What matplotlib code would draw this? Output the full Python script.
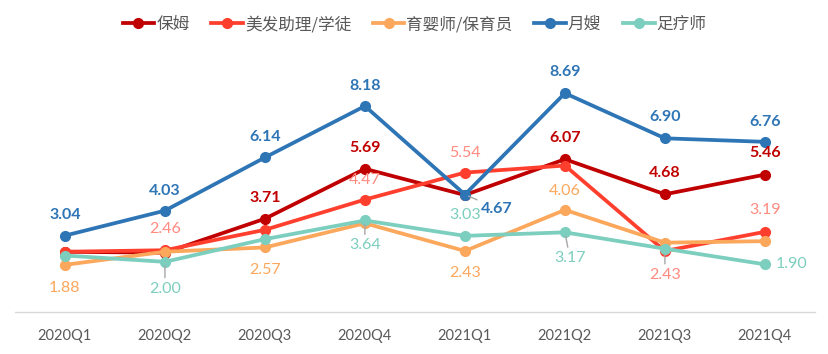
import matplotlib
matplotlib.use("Agg")
from matplotlib import pyplot as plt

plt.rcParams['font.family'] = ['Noto Sans CJK SC', 'DejaVu Sans']

quarters = ['2020Q1', '2020Q2', '2020Q3', '2020Q4', '2021Q1', '2021Q2', '2021Q3', '2021Q4']
names = ['保姆', '美发助理/学徒', '育婴师/保育员', '月嫂', '足疗师']

baomu = [2.40, 2.36, 3.71, 5.69, 4.65, 6.07, 4.68, 5.46]
meifa = [2.40, 2.46, 3.27, 4.47, 5.54, 5.82, 2.43, 3.19]
yuying = [1.88, 2.40, 2.57, 3.53, 2.43, 4.06, 2.76, 2.82]
yuesao = [3.04, 4.03, 6.14, 8.18, 4.67, 8.69, 6.90, 6.76]
zuliao = [2.25, 2.00, 2.90, 3.64, 3.03, 3.17, 2.52, 1.90]

series = [baomu, meifa, yuying, yuesao, zuliao]
line_colors = ['#C00000', '#FF3F2E', '#FBA75C', '#2E75B6', '#7CCEBE']
label_colors = ['#C00000', '#FF8A80', '#FBA75C', '#2E75B6', '#7CCEBE']
label_weights = ['bold', 'normal', 'normal', 'bold', 'normal']

# which points get a label: (series index, point index, dx px, dy px, leader line)
labels = [
    (3, 0, 0, 21, False), (3, 1, 0, 20, False), (3, 2, 0, 20, False), (3, 3, 0, 20, False),
    (3, 4, 32, -14, True), (3, 5, 0, 21, False), (3, 6, 0, 21, False), (3, 7, 0, 20, False),
    (0, 2, 0, 21, False), (0, 3, 0, 21, False), (0, 5, 0, 21, False), (0, 6, 0, 21, False),
    (0, 7, 0, 22, False),
    (1, 1, 0, 21, False), (1, 3, 0, 20, False), (1, 4, 0, 20, False), (1, 6, 0, -24, True),
    (1, 7, 0, 22, False),
    (2, 0, 0, -23, False), (2, 2, 0, -23, False), (2, 4, 0, -22, False), (2, 5, 0, 19, False),
    (4, 1, 0, -27, True), (4, 3, 0, -25, True), (4, 4, 0, 21, False), (4, 5, 5, -26, True),
    (4, 7, 27, 0, False),
]

fig = plt.figure(figsize=(8.29, 3.54), dpi=100)
ax = fig.add_axes([0.018, 0.118, 0.965, 0.712])

x = range(len(quarters))
for i in range(len(series)):
    ax.plot(x, series[i], color=line_colors[i], lw=2.7, marker='o', ms=7,
            label=names[i], zorder=3 + i)

for s, p, dx, dy, leader in labels:
    val = series[s][p]
    kw = {}
    if leader:
        kw['arrowprops'] = dict(arrowstyle='-', color='#A6A6A6', lw=1, shrinkA=1, shrinkB=3)
    ax.annotate('%.2f' % val, (p, val), xytext=(dx, dy), textcoords='offset pixels',
                ha='center', va='center', fontsize=11.5, family=['Lato', 'DejaVu Sans'],
                color=label_colors[s], fontweight=label_weights[s], zorder=10, **kw)

ax.set_xlim(-0.5, len(quarters) - 0.5)
ax.set_ylim(0, 10)
ax.set_xticks(list(x))
ax.set_xticklabels(quarters, fontsize=10.5, color='#595959', family=['Lato', 'DejaVu Sans'])
ax.tick_params(axis='x', length=0, pad=12)
ax.set_yticks([])
for side in ['top', 'right', 'left']:
    ax.spines[side].set_visible(False)
ax.spines['bottom'].set_color('#D9D9D9')
ax.spines['bottom'].set_linewidth(1)

leg = fig.legend(loc='center', bbox_to_anchor=(0.5, 0.93), ncol=5, frameon=False,
                 fontsize=12, handlelength=1.9, handletextpad=0.12, columnspacing=1.3)
for t in leg.get_texts():
    t.set_color('#595959')

fig.savefig('out.png', dpi=100)
